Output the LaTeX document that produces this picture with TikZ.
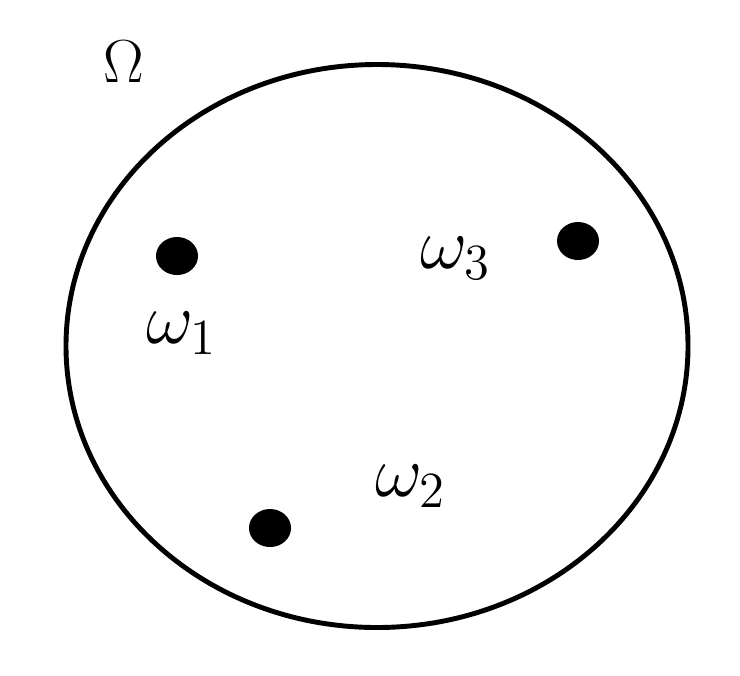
\documentclass[tikz,border=0pt]{standalone}
\usepackage{amsmath,amsfonts}
\usepackage{tikz}
\usetikzlibrary{shapes.geometric}

\begin{document}
\begin{tikzpicture}[x=0.01cm, y=-0.01cm, line width=1.4pt, dot/.style = {ellipse, fill=black, inner sep=0pt, minimum width=0.42cm, minimum height=0.38cm}, lbl/.style = {inner sep=0pt, font=\huge}]

    \useasboundingbox (0,0) rectangle (740,675);

    \draw (377,346) ellipse [x radius=311, y radius=281.5];

    \node[lbl, font=\LARGE] (om) at (124,62) {$\Omega$};

    \node[dot] (p1) at (177,256) {};
    \node[dot] (p3) at (578,241) {};
    \node[dot] (p2) at (270,528) {};

    \node[lbl] (w1) at (182,333) {$\omega_1$};
    \node[lbl] (w3) at (456,258) {$\omega_3$};
    \node[lbl] (w2) at (411,486) {$\omega_2$};
    \end{tikzpicture}
\end{document}
